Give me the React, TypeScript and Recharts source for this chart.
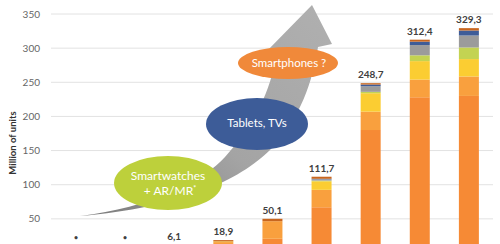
import React from "react";
import { BarChart, Bar, XAxis, YAxis, CartesianGrid, LabelList } from "recharts";

// shipments per year, million of units (stacked segments)
const years = ["2014", "2015", "2016", "2017", "2018", "2019", "2020", "2021", "2022"];
const mainOrange = [0.05, 0.15, 3, 11, 20.8, 67, 180, 228, 230];
const lightOrange = [0.03, 0.07, 2, 5, 25.8, 25.5, 27, 26, 28.5];
const yellow = [0, 0, 0, 1, 0, 12.5, 27, 27, 25.5];
const green = [0, 0, 0, 0, 0, 1, 2, 8.5, 17];
const gray = [0, 0, 0, 0, 0, 2, 8.2, 15, 17.5];
const blue = [0, 0, 0, 0, 0, 0.7, 2.5, 5, 7.3];
const brown = [0.02, 0.08, 1.1, 1.9, 3.5, 3, 2, 2.9, 3.5];
const totalLabels = ["•", "•", "6,1", "18,9", "50,1", "111,7", "248,7", "312,4", "329,3"];
const yTicks = [50, 100, 150, 200, 250, 300, 350];

const data = years.map((year, i) => ({
  year,
  mainOrange: mainOrange[i],
  lightOrange: lightOrange[i],
  yellow: yellow[i],
  green: green[i],
  gray: gray[i],
  blue: blue[i],
  brown: brown[i],
  label: totalLabels[i],
}));

const font = "Lato, 'Open Sans', sans-serif";

const renderTotal = (props: any) => {
  const { x, y, width, value } = props;
  const isDot = value === "•";
  // labels of the tiny bars sit just above the cut-off bottom edge
  const baseY = isDot ? Number(y) - 13 : Math.min(Number(y) - 5, 240);
  return (
    <text
      x={Number(x) + Number(width) / 2}
      y={baseY}
      textAnchor="middle"
      fontFamily={font}
      fontWeight={700}
      fontSize={isDot ? 7 : 10}
      fill="#404040"
    >
      {value}
    </text>
  );
};

function Annotations() {
  return (
    <svg
      width={500}
      height={244}
      style={{ position: "absolute", left: 0, top: 0, pointerEvents: "none" }}
    >
      <defs>
        <linearGradient id="arrowFill" x1="0" y1="1" x2="1" y2="0">
          <stop offset="0%" stopColor="#7a7a7a" />
          <stop offset="45%" stopColor="#a4a4a4" />
          <stop offset="100%" stopColor="#b0b0b0" />
        </linearGradient>
      </defs>
      <path
        d="M 80 216 C 150 208, 205 180, 225 157 C 245 135, 262 110, 272 75 L 276 50 L 266 52 L 312 5 L 332 44 L 318 47 C 313 80, 300 120, 270 150 C 240 180, 180 208, 80 216 Z"
        fill="url(#arrowFill)"
      />
      <ellipse cx={168} cy={183} rx={54} ry={27} fill="#bdd03b" />
      <text x={168} y={180} textAnchor="middle" fontFamily={font} fontSize={12} fill="#fff">
        Smartwatches
      </text>
      <text x={170} y={195} textAnchor="middle" fontFamily={font} fontSize={12} fill="#fff">
        + AR/MR
        <tspan fontSize={7} dy={-4}>*</tspan>
      </text>
      <ellipse cx={257} cy={124} rx={51} ry={26} fill="#3d5c98" />
      <text x={257} y={127} textAnchor="middle" fontFamily={font} fontSize={11.5} fill="#fff">
        Tablets, TVs
      </text>
      <ellipse cx={288} cy={63} rx={50} ry={16} fill="#f0893a" />
      <text x={289} y={67} textAnchor="middle" fontFamily={font} fontSize={11.5} fill="#fff">
        Smartphones ?
      </text>
      <text
        x={16}
        y={143}
        transform="rotate(-90 16 143)"
        textAnchor="middle"
        fontFamily={font}
        fontWeight={700}
        fontSize={9.5}
        fill="#333"
      >
        Million of units
      </text>
    </svg>
  );
}

export default function App() {
  return (
    <div
      style={{
        position: "absolute",
        left: 0,
        top: 0,
        width: 500,
        height: 244,
        overflow: "hidden",
        background: "#fff",
      }}
    >
      <BarChart
        width={500}
        height={262}
        data={data}
        margin={{ top: 14, right: 7, bottom: 9, left: 0 }}
        barSize={20}
      >
        <CartesianGrid vertical={false} stroke="#e2e2e2" />
        <XAxis dataKey="year" hide />
        <YAxis
          width={51}
          domain={[0, 350]}
          ticks={yTicks}
          axisLine={false}
          tickLine={false}
          tickMargin={5}
          tick={{ fontSize: 10, fill: "#666", fontFamily: font }}
        />
        <Bar dataKey="mainOrange" stackId="a" fill="#f68a35" isAnimationActive={false} />
        <Bar dataKey="lightOrange" stackId="a" fill="#f9a03e" isAnimationActive={false} />
        <Bar dataKey="yellow" stackId="a" fill="#fbcd32" isAnimationActive={false} />
        <Bar dataKey="green" stackId="a" fill="#c3d352" isAnimationActive={false} />
        <Bar dataKey="gray" stackId="a" fill="#9b9b9b" isAnimationActive={false} />
        <Bar dataKey="blue" stackId="a" fill="#3e5c98" isAnimationActive={false} />
        <Bar dataKey="brown" stackId="a" fill="#c8661f" isAnimationActive={false}>
          <LabelList dataKey="label" content={renderTotal} />
        </Bar>
      </BarChart>
      <Annotations />
    </div>
  );
}
